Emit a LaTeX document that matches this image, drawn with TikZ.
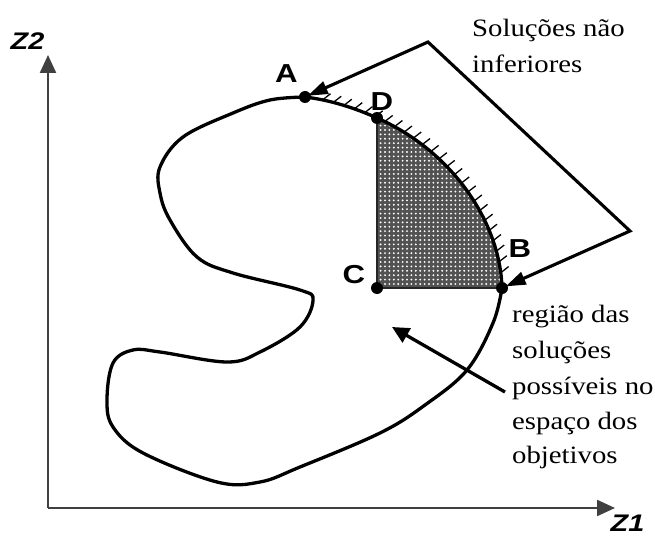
\documentclass[tikz,border=0pt]{standalone}
\usepackage{fontspec}
\setmainfont{Liberation Serif}
\newfontfamily\lblfont[FakeStretch=1.2]{Liberation Sans}
\newfontfamily\txtfont[FakeStretch=1.15]{Liberation Serif}
\usetikzlibrary{arrows.meta,patterns,decorations.markings}
\pgfdeclarepatternformonly{bigdots}{\pgfqpoint{-1pt}{-1pt}}{\pgfqpoint{6pt}{6pt}}{\pgfqpoint{4.4pt}{4.4pt}}{%
  \pgfpathcircle{\pgfqpoint{2.2pt}{2.2pt}}{1.05pt}\pgfusepath{fill}}
\tikzset{
  curve/.style={line width=3.3pt, line join=round, line cap=round},
  axisline/.style={line width=2.3pt, black!75, -{Triangle[length=18pt,width=16pt]}},
  pointer/.style={line width=3.1pt, line join=miter,
    {Triangle[length=20pt,width=13pt]}-{Triangle[length=20pt,width=13pt]},
    shorten <=3pt, shorten >=4pt},
  pointertwo/.style={line width=3.3pt, -{Triangle[length=17pt,width=16pt]}},
  dot/.style={circle, fill=black, inner sep=0pt, minimum size=12pt},
  txt/.style={font=\txtfont\fontsize{25}{30}\selectfont, inner sep=0pt, anchor=base west},
  lbl/.style={font=\lblfont\bfseries\fontsize{26}{30}\selectfont, inner sep=0pt, anchor=base},
  zlbl/.style={font=\lblfont\bfseries\itshape\fontsize{24}{28}\selectfont, inner sep=0pt, anchor=base},
}
\begin{document}
\begin{tikzpicture}[x=1pt,y=-1pt]
\useasboundingbox (0,0) rectangle (655,537);
% axes
\coordinate (O) at (48,508);
\coordinate (Ytip) at (48,55);
\coordinate (Xtip) at (615,508);
\draw[axisline] (O) -- (Ytip);
\draw[axisline] (O) -- (Xtip);
\node[zlbl] (z2) at (27.5,50) {Z2};
\node[zlbl] (z1) at (627.5,531) {Z1};
% key points
\coordinate (A) at (305,97);
\coordinate (D) at (377,118);
\coordinate (B) at (502,288);
\coordinate (C) at (377,288);
% shaded region
\fill[black!68] (C) -- (D) .. controls (450,150) and (500,220) .. (B) -- cycle;
\fill[pattern=bigdots, pattern color=white] (C) -- (D) .. controls (450,150) and (500,220) .. (B) -- cycle;
\draw[line width=1.8pt, black!85] (D) -- (C) -- (B);
% ticks on the non-inferior frontier
\path[decoration={markings, mark=between positions 0.06 and 0.97 step 11pt with {\pgftransformresetnontranslations \draw[line width=1.3pt] (0,0) -- (38:10pt);}}, decorate]
  (A) .. controls (330,100) and (355,108) .. (D) .. controls (450,150) and (500,220) .. (B);
% outline
\draw[curve] (A) .. controls (330,100) and (355,108) .. (D) .. controls (450,150) and (500,220) .. (B);
\draw[curve] plot[smooth, tension=0.6] coordinates {(502,288) (493,323) (467,370) (425,405) (380,433) (300,467) (260,482) (217,482) (143,453) (113,427) (107,400) (113,363) (133,350) (160,352) (227,362) (260,352) (300,327) (313,300) (300,290) (233,273) (197,257) (170,220) (160,193) (160,167) (183,137) (233,113) (270,100) (305,97)};
% dots
\node[dot] (dA) at (A) {};
\node[dot] (dD) at (D) {};
\node[dot] (dB) at (B) {};
\node[dot] (dC) at (C) {};
% labels
\node[lbl] (lA) at (286.5,83) {A};
\node[lbl] (lD) at (382,111) {D};
\node[lbl] (lC) at (354,283) {C};
\node[lbl] (lB) at (520,257) {B};
% pointer to frontier
\coordinate (apex) at (428,42);
\coordinate (rv) at (630,231);
\draw[pointer] (A) -- (apex) -- (rv) -- (B);
% pointer to region
\coordinate (rt) at (505,392);
\coordinate (rh) at (392,327);
\draw[pointertwo] (rt) -- (rh);
% texts
\node[txt] (t1) at (472,37) {Soluções não};
\node[txt] (t2) at (472,73) {inferiores};
\node[txt] (r1) at (512,322) {região das};
\node[txt] (r2) at (512,358) {soluções};
\node[txt] (r3) at (512,394) {possíveis no};
\node[txt] (r4) at (512,429) {espaço dos};
\node[txt] (r5) at (512,463) {objetivos};
\end{tikzpicture}
\end{document}
